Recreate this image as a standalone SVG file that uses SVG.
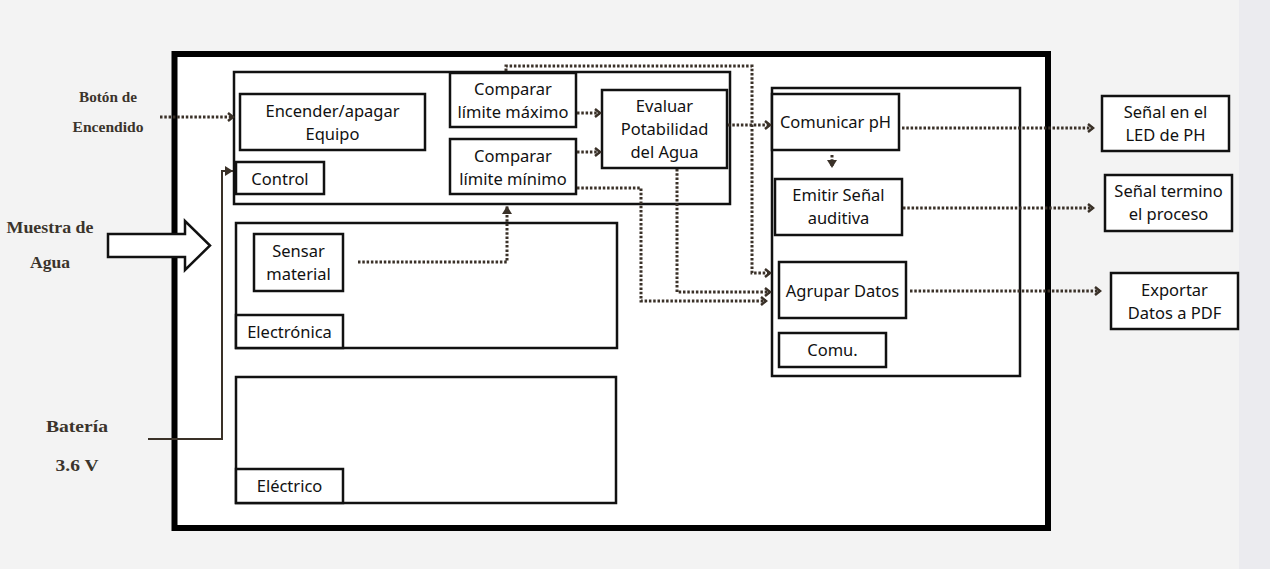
<svg xmlns="http://www.w3.org/2000/svg" width="1270" height="569" viewBox="0 0 1270 569">
<defs>
<style>
.bx{fill:#fff;stroke:#111;stroke-width:2.5}
.t{font-family:"Noto Sans","Open Sans",sans-serif;font-size:16.5px;fill:#111;text-anchor:middle}
.lt{font-family:"Liberation Serif","DejaVu Serif",serif;font-weight:bold;fill:#3b342c;text-anchor:middle}
.dot{fill:none;stroke:#3a3128;stroke-width:3;stroke-dasharray:2.5 1.8}
.sol{fill:none;stroke:#3a3128;stroke-width:2}
</style>
<marker id="ah" markerWidth="10" markerHeight="10" refX="7" refY="5" orient="auto" markerUnits="userSpaceOnUse">
<path d="M2,1 L7,5 L2,9" fill="none" stroke="#3a3128" stroke-width="2.5"/>
</marker>
<marker id="af" markerWidth="12" markerHeight="12" refX="10" refY="6" orient="auto" markerUnits="userSpaceOnUse">
<path d="M2,1 L10,6 L2,11 Z" fill="#3a3128"/>
</marker>
</defs>
<rect width="1270" height="569" fill="#f3f3f3"/>
<rect x="1239" y="0" width="31" height="569" fill="#ebebef"/>
<rect x="174.5" y="54" width="873.5" height="474" fill="#fff" stroke="#000" stroke-width="6"/>

<g id="external">
<text class="lt" x="108" y="102" font-size="14" textLength="58" lengthAdjust="spacingAndGlyphs">Botón de</text>
<text class="lt" x="108" y="132" font-size="14" textLength="71" lengthAdjust="spacingAndGlyphs">Encendido</text>
<text class="lt" x="50" y="233" font-size="17" textLength="87" lengthAdjust="spacingAndGlyphs">Muestra de</text>
<text class="lt" x="50" y="268" font-size="17" textLength="40" lengthAdjust="spacingAndGlyphs">Agua</text>
<text class="lt" x="77" y="432" font-size="17.5" textLength="62" lengthAdjust="spacingAndGlyphs">Batería</text>
<text class="lt" x="77" y="471" font-size="17.5" textLength="43" lengthAdjust="spacingAndGlyphs">3.6 V</text>
<path d="M108,234 L185,234 L185,221 L210,245.5 L185,270 L185,257 L108,257 Z" fill="#fff" stroke="#111" stroke-width="2.5"/>
</g>

<g id="control-group">
<rect class="bx" x="234" y="72" width="496" height="132"/>
</g>
<g id="encender"><rect class="bx" x="240" y="94" width="185" height="56"/><text class="t" x="332.5" y="117">Encender/apagar</text><text class="t" x="332.5" y="140">Equipo</text></g>
<g id="control-label"><rect class="bx" x="236" y="162" width="88" height="32"/><text class="t" x="280" y="185">Control</text></g>
<g id="comparar-max"><rect class="bx" x="450" y="73" width="126" height="54"/><text class="t" x="513" y="95">Comparar</text><text class="t" x="513" y="118">límite máximo</text></g>
<g id="comparar-min"><rect class="bx" x="450" y="139" width="126" height="55"/><text class="t" x="513" y="162">Comparar</text><text class="t" x="513" y="185">límite mínimo</text></g>
<g id="evaluar"><rect class="bx" x="602" y="90" width="125" height="78"/><text class="t" x="664.5" y="112">Evaluar</text><text class="t" x="664.5" y="135">Potabilidad</text><text class="t" x="664.5" y="158">del Agua</text></g>

<g id="electronica-group"><rect class="bx" x="236" y="223" width="381" height="125"/></g>
<g id="sensar"><rect class="bx" x="254" y="234" width="89" height="57"/><text class="t" x="298.5" y="257">Sensar</text><text class="t" x="298.5" y="280">material</text></g>
<g id="electronica-label"><rect class="bx" x="236" y="315" width="107" height="33"/><text class="t" x="289.5" y="338">Electrónica</text></g>

<g id="electrico-group"><rect class="bx" x="236" y="377" width="380" height="126"/></g>
<g id="electrico-label"><rect class="bx" x="236" y="469" width="107" height="34"/><text class="t" x="289.5" y="492">Eléctrico</text></g>

<g id="comu-group"><rect class="bx" x="772" y="88" width="248" height="288"/></g>
<g id="comunicar"><rect class="bx" x="772" y="94" width="127" height="56"/><text class="t" x="835.5" y="128">Comunicar pH</text></g>
<g id="emitir"><rect class="bx" x="775" y="179" width="127" height="56"/><text class="t" x="838.5" y="201">Emitir Señal</text><text class="t" x="838.5" y="224">auditiva</text></g>
<g id="agrupar"><rect class="bx" x="779" y="262" width="127" height="56"/><text class="t" x="842.5" y="297">Agrupar Datos</text></g>
<g id="comu-label"><rect class="bx" x="779" y="333" width="107" height="34"/><text class="t" x="832.5" y="356">Comu.</text></g>

<g id="led"><rect class="bx" x="1102" y="96" width="127" height="55"/><text class="t" x="1165.5" y="118">Señal en el</text><text class="t" x="1165.5" y="141">LED de PH</text></g>
<g id="termino"><rect class="bx" x="1105" y="175" width="127" height="56"/><text class="t" x="1168.5" y="197">Señal termino</text><text class="t" x="1168.5" y="220">el proceso</text></g>
<g id="exportar"><rect class="bx" x="1111" y="273" width="127" height="56"/><text class="t" x="1174.5" y="296">Exportar</text><text class="t" x="1174.5" y="319">Datos a PDF</text></g>

<g id="connectors">
<path class="dot" d="M160,117 L233,117" marker-end="url(#ah)"/>
<path class="sol" d="M148,439 L222,439 L222,171 L233,171" marker-end="url(#af)"/>
<path class="dot" d="M577,113 L600,113" marker-end="url(#ah)"/>
<path class="dot" d="M577,152 L600,152" marker-end="url(#ah)"/>
<path class="dot" d="M728,125 L770,125" marker-end="url(#ah)"/>
<path class="dot" d="M506,71 L506,66 L752,66 L752,273 L770,273" marker-end="url(#ah)"/>
<path class="dot" d="M677,169 L677,292 L770,292" marker-end="url(#ah)"/>
<path class="dot" d="M577,188 L641,188 L641,301 L766,301" marker-end="url(#ah)"/>
<path class="dot" d="M358,262 L507,262 L507,206" marker-end="url(#af)"/>
<path class="dot" d="M832,155 L832,168" marker-end="url(#af)"/>
<path class="dot" d="M902,128 L1093,128" marker-end="url(#ah)"/>
<path class="dot" d="M903,208 L1093,208" marker-end="url(#ah)"/>
<path class="dot" d="M910,291 L1100,291" marker-end="url(#ah)"/>
</g>
</svg>
